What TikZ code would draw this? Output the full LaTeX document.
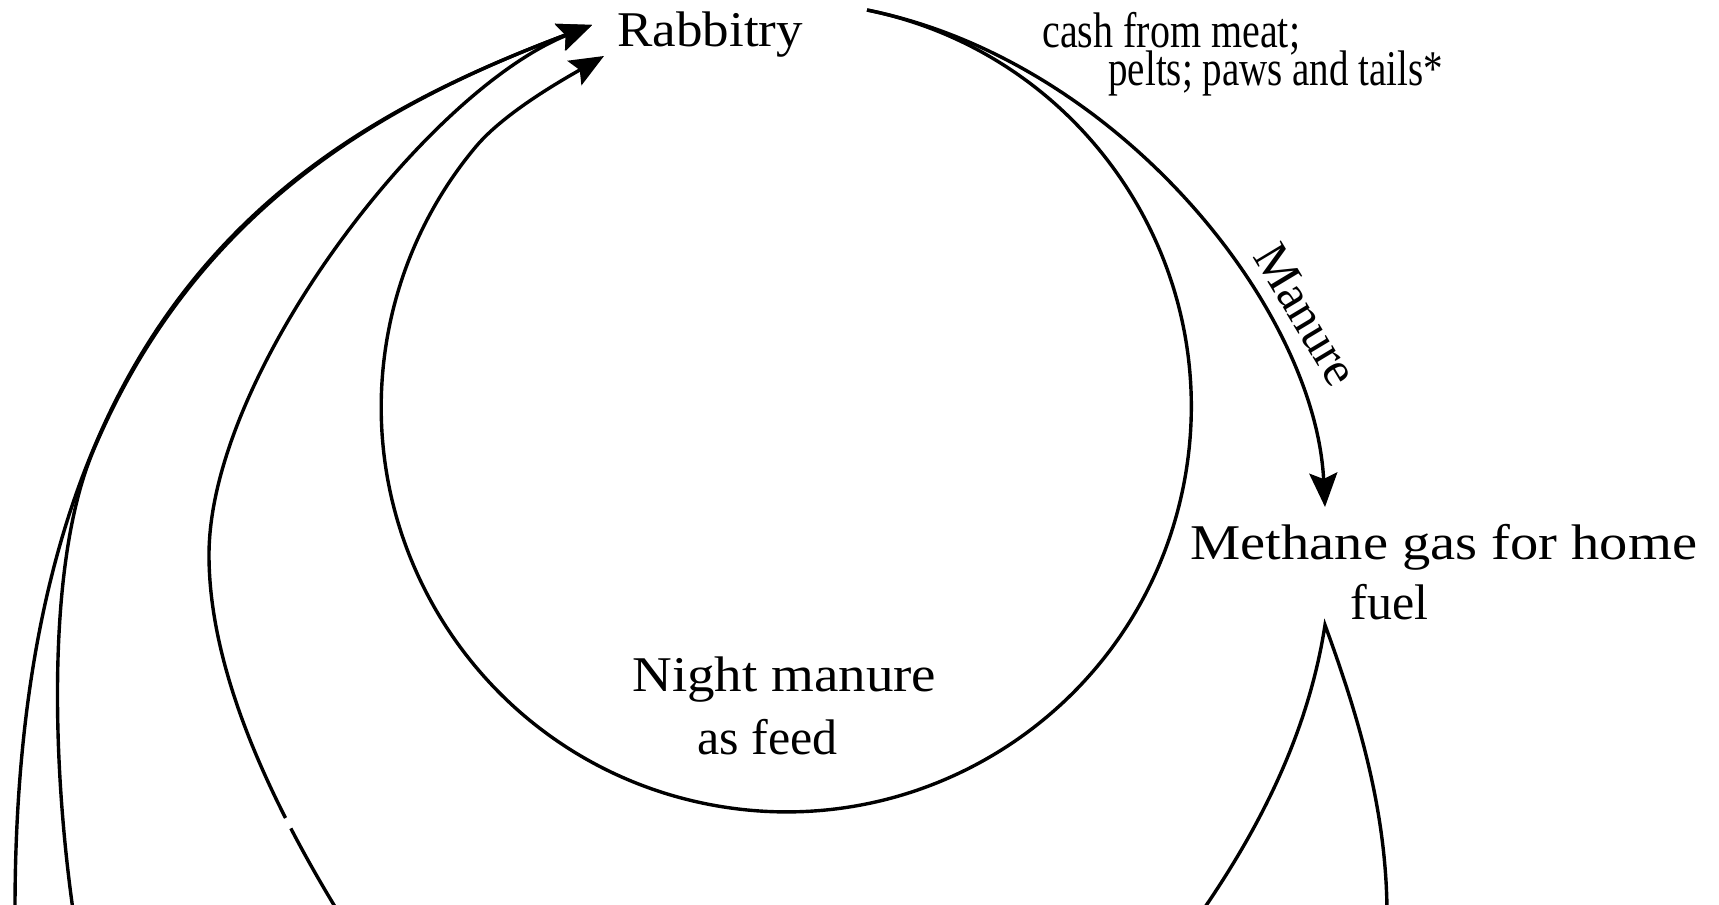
\documentclass[tikz,border=0pt]{standalone}
\usepackage{fontspec}
\setmainfont{Liberation Serif}
\usetikzlibrary{arrows.meta}
\begin{document}
\begin{tikzpicture}[x=0.5pt,y=0.5pt,
  flow/.style={line width=1.7pt, line cap=butt},
  arr/.style={flow, -{Stealth[length=17pt,width=14pt,inset=3pt]}},
  lbl/.style={font=\fontsize{25}{30}\selectfont, inner sep=0pt, anchor=base west}]
\useasboundingbox (0,0) rectangle (1719,905);
% labels
\node[lbl] (rab) at (617,858) {\scalebox{1.06}[1]{Rabbitry}};
\node[lbl] (cash) at (1042,857) {\scalebox{0.8}[1]{cash from meat;}};
\node[lbl] (pelts) at (1108,819) {\scalebox{0.78}[1]{pelts; paws and tails*}};
\node[lbl, anchor=center, rotate=-59] (man) at (1306,590) {Manure};
\node[lbl] (meth) at (1190,345) {\scalebox{1.13}[1]{Methane gas for home}};
\node[lbl] (fuel) at (1350,285) {fuel};
\node[lbl] (night) at (632,213) {\scalebox{1.1}[1]{Night manure}};
\node[lbl] (feed) at (697,150) {as feed};
% named points
\coordinate (T1) at (592,880);
\coordinate (T2) at (604,849);
\coordinate (R0) at (867,895);
\coordinate (MT) at (1325,398);
\coordinate (P) at (1325,280);
\coordinate (A0) at (15,-5);
\coordinate (B0) at (73,-5);
\coordinate (BS) at (93.4,454.5);
\coordinate (C0) at (337,-5);
\coordinate (Cg1) at (290.85,76.6);
\coordinate (Cg2) at (285.52,87.01);
\coordinate (L0) at (1203,-5);
\coordinate (R1) at (1387,-5);
% manure arrow
\draw[arr] (R0) .. controls (1117,845) and (1315,598) .. (MT);
% night manure loop
\draw[arr] (R0) arc[start angle=78.5, end angle=-220, radius=405]
   .. controls (505,793) and (565,826.5) .. (T2);
% curves from below into Rabbitry
\draw[arr] (A0) .. controls (15,600) and (300,770) .. (T1);
\draw[arr] (B0) .. controls (52,143.5) and (46.7,344) .. (BS)
   .. controls (198.1,702.7) and (393.4,805.2) .. (T1);
\draw[flow] (C0) .. controls (321.5,20.5) and (305.75,47.94) .. (Cg1);
\draw[arr] (Cg2) .. controls (243.21,170.47) and (209,263.6) .. (209,350)
   .. controls (209,530) and (425,812.5) .. (T1);
% methane branches
\draw[flow, line join=miter] (L0) .. controls (1258,75) and (1308,170) .. (P)
   .. controls (1356,195) and (1386,100) .. (R1);
\end{tikzpicture}
\end{document}
